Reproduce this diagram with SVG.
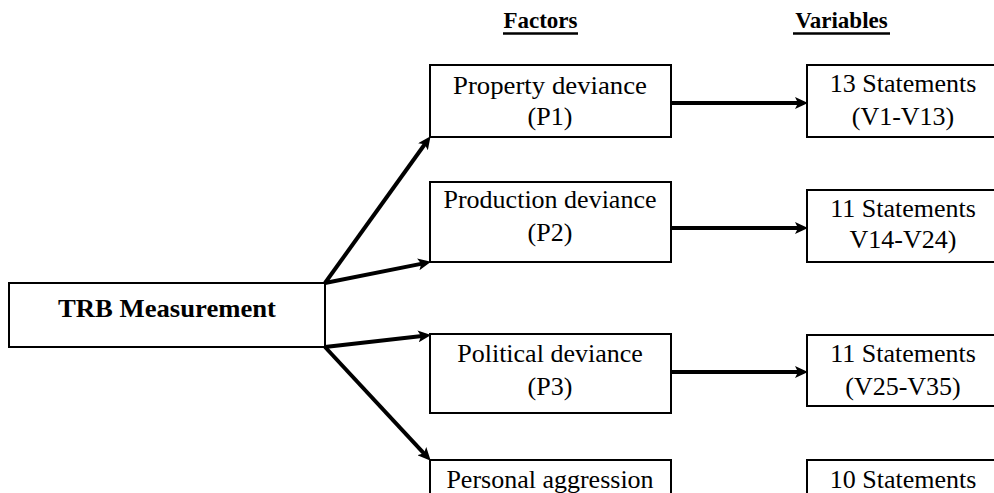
<svg xmlns="http://www.w3.org/2000/svg" width="994" height="493" viewBox="0 0 994 493">
<defs>
<style>
.box{fill:#fff;stroke:#000;stroke-width:2}
.t{font-family:"Liberation Serif","Times New Roman",serif;font-size:26px;fill:#000;text-anchor:middle}
.b{font-weight:bold}
.h{font-family:"Liberation Serif","Times New Roman",serif;font-size:23px;font-weight:bold;fill:#000;text-anchor:middle}
.u{stroke:#000;stroke-width:2.5}
.c{stroke:#000;stroke-width:4;fill:none;marker-end:url(#ah)}
</style>
<marker id="ah" markerUnits="userSpaceOnUse" markerWidth="14" markerHeight="12" refX="4" refY="6" orient="auto">
<path d="M0,0 L13,6 L0,12 L3,6 Z" fill="#000"/>
</marker>
</defs>
<rect width="994" height="493" fill="#fff"/>
<g id="headers">
<text class="h" x="540.5" y="28">Factors</text>
<line class="u" x1="503" y1="33.5" x2="578" y2="33.5"/>
<text class="h" x="841.5" y="28">Variables</text>
<line class="u" x1="793" y1="33.5" x2="890" y2="33.5"/>
</g>
<g id="trb"><rect class="box" x="9" y="283" width="316" height="64"/><text class="t b" x="167" y="317" textLength="218" lengthAdjust="spacingAndGlyphs">TRB Measurement</text></g>
<g id="p1"><rect class="box" x="430" y="65" width="241" height="72"/><text class="t" x="550" y="94" textLength="194" lengthAdjust="spacingAndGlyphs">Property deviance</text><text class="t" x="550" y="125">(P1)</text></g>
<g id="p2"><rect class="box" x="430" y="182" width="241" height="80"/><text class="t" x="550" y="208">Production deviance</text><text class="t" x="550" y="241">(P2)</text></g>
<g id="p3"><rect class="box" x="430" y="334" width="241" height="79"/><text class="t" x="550" y="362">Political deviance</text><text class="t" x="550" y="395">(P3)</text></g>
<g id="p4"><rect class="box" x="430" y="460" width="241" height="60"/><text class="t" x="550" y="488">Personal aggression</text></g>
<g id="v1"><rect class="box" x="807" y="65" width="200" height="72"/><text class="t" x="903" y="92">13 Statements</text><text class="t" x="903" y="125">(V1-V13)</text></g>
<g id="v2"><rect class="box" x="807" y="190" width="200" height="72"/><text class="t" x="903" y="217">11 Statements</text><text class="t" x="903" y="248">V14-V24)</text></g>
<g id="v3"><rect class="box" x="807" y="335" width="200" height="71"/><text class="t" x="903" y="362">11 Statements</text><text class="t" x="903" y="395">(V25-V35)</text></g>
<g id="v4"><rect class="box" x="807" y="460" width="200" height="60"/><text class="t" x="903" y="488">10 Statements</text></g>
<g id="connectors">
<line class="c" x1="325" y1="283" x2="425.3" y2="143.5"/>
<line class="c" x1="325" y1="283" x2="422.2" y2="263.6"/>
<line class="c" x1="325" y1="347" x2="422.1" y2="335.9"/>
<line class="c" x1="325" y1="347" x2="424.6" y2="454.1"/>
<line class="c" x1="671" y1="103" x2="799" y2="103"/>
<line class="c" x1="671" y1="228" x2="799" y2="228"/>
<line class="c" x1="671" y1="372" x2="799" y2="372"/>
</g>
</svg>
